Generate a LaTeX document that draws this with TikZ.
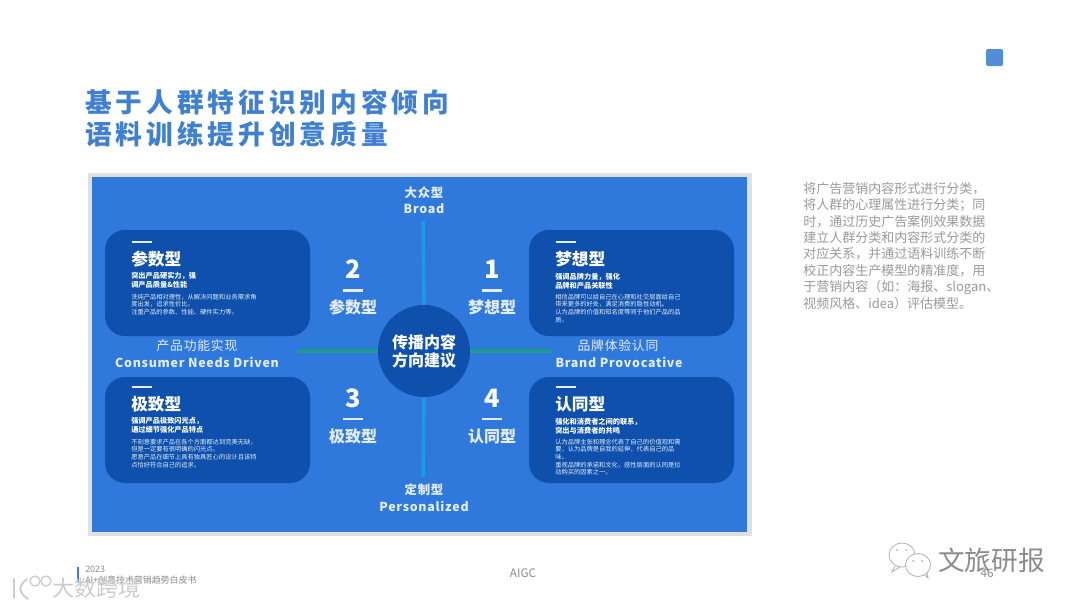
\documentclass[tikz,border=0pt]{standalone}
\usepackage{fontspec}
\setmainfont{Noto Sans CJK SC}
\newfontfamily\spaced[LetterSpace=6]{Noto Sans CJK SC}
\newfontfamily\wide[LetterSpace=15]{Noto Sans CJK SC}
\definecolor{panel}{HTML}{2F78DC}
\definecolor{card}{HTML}{0E50AC}
\definecolor{titleblue}{HTML}{3F80D2}
\definecolor{softwhite}{HTML}{E4EDFB}
\definecolor{vaxis}{HTML}{1A9BE6}
\definecolor{haxis}{HTML}{1F9C90}
\definecolor{graytext}{HTML}{9A9A9A}
\definecolor{footgray}{HTML}{8A8A8A}
\tikzset{
  x=0.75pt,y=-0.75pt,
  cardbox/.style={fill=card,draw=none,rounded corners=15pt},
  dashbar/.style={draw=softwhite,line width=1.6pt},
  cardtitle/.style={anchor=west,inner sep=0pt,text=white,font=\fontsize{12.5}{14}\selectfont\bfseries},
  cardsub/.style={anchor=north west,inner sep=0pt,align=left,text=white,font=\fontsize{5.4}{6.8}\selectfont\bfseries},
  cardbody/.style={anchor=north west,inner sep=0pt,align=left,text=softwhite,font=\fontsize{4.7}{5.75}\selectfont},
  numlabel/.style={inner sep=0pt,text=white,font=\fontsize{19}{20}\selectfont\bfseries},
  typelabel/.style={inner sep=0pt,text=softwhite,font=\fontsize{12}{14}\selectfont\bfseries},
  axislabel/.style={inner sep=0pt,text=softwhite,font=\spaced\fontsize{9.3}{11}\selectfont\bfseries},
  axislabelm/.style={inner sep=0pt,text=softwhite,font=\spaced\fontsize{9.6}{11}\selectfont},
  footer/.style={inner sep=0pt,text=footgray,font=\fontsize{6.7}{7}\selectfont},
  footerbig/.style={inner sep=0pt,text=footgray,font=\fontsize{8.8}{10}\selectfont},
}
\begin{document}
\begin{tikzpicture}
\useasboundingbox (0,0) rectangle (1080,608);
\fill[white] (0,0) rectangle (1080,608);
% corner square
\fill[fill=titleblue!90!white,rounded corners=1.5pt] (986,49) rectangle (1003,66);
% title
\node[anchor=west,inner sep=0pt,text=titleblue,font=\wide\fontsize{20}{24}\selectfont\bfseries] (t1) at (85,102) {基于人群特征识别内容倾向};
\node[anchor=west,inner sep=0pt,text=titleblue,font=\wide\fontsize{20}{24}\selectfont\bfseries] (t2) at (85,134) {语料训练提升创意质量};
% panel with soft edge
\fill[black!12] (88,173) rectangle (752,536);
\fill[panel] (92,177) rectangle (747,532);
% cards
\fill[cardbox] (105,230) rectangle (310,336);
\fill[cardbox] (529,230) rectangle (734,336);
\fill[cardbox] (105,377) rectangle (310,483);
\fill[cardbox] (529,377) rectangle (734,483);
% axes
\coordinate (vtop) at (423,221);
\coordinate (vbot) at (423,477);
\coordinate (hleft) at (297,351);
\coordinate (hright) at (552,351);
\node[circle,fill=card,minimum size=69pt,inner sep=0pt] (hub) at (424,351) {};
\draw[vaxis,line width=2.6pt] (vtop) -- (hub.north);
\draw[vaxis,line width=2.6pt] (hub.south) -- (vbot);
\draw[haxis,line width=2.6pt] (hleft) -- (hub.west);
\draw[haxis,line width=2.6pt] (hub.east) -- (hright);
\node[inner sep=0pt,align=center,text=white,font=\fontsize{12}{13.6}\selectfont\bfseries] (hubtext) at (424,351) {传播内容\\方向建议};
% axis labels
\node[axislabel] (a1) at (424,193) {大众型};
\node[axislabel] (a2) at (424,209) {Broad};
\node[axislabel] (a3) at (424,490) {定制型};
\node[axislabel] (a4) at (424,506) {Personalized};
\node[axislabelm] (a5) at (197,346) {产品功能实现};
\node[axislabel] (a6) at (197,362) {Consumer Needs Driven};
\node[axislabelm] (a7) at (618,346) {品牌体验认同};
\node[axislabel] (a8) at (619,362) {Brand Provocative};
% quadrant numbers
\node[numlabel] (n2) at (353,269) {2};
\node[numlabel] (n1) at (492,269) {1};
\node[numlabel] (n3) at (353,398) {3};
\node[numlabel] (n4) at (492,398) {4};
\draw[dashbar] (343,290.5) -- (363,290.5);
\draw[dashbar] (482,290.5) -- (502,290.5);
\draw[dashbar] (343,419) -- (363,419);
\draw[dashbar] (482,419) -- (502,419);
\node[typelabel] (l2) at (353,307) {参数型};
\node[typelabel] (l1) at (492,307) {梦想型};
\node[typelabel] (l3) at (353,436) {极致型};
\node[typelabel] (l4) at (492,436) {认同型};
% card 参数型
\draw[dashbar] (131.5,242) -- (152,242);
\node[cardtitle] (c2t) at (131,259) {参数型};
\node[cardsub] (c2s) at (131,272) {突出产品硬实力，强\\调产品质量\&性能};
\node[cardbody] (c2b) at (131,293.5) {洗纯产品相对理性，从解决问题和业务需求角\\度出发，追求性价比。\\注重产品的参数、性能、硬件实力等。};
% card 梦想型
\draw[dashbar] (555.5,242) -- (576,242);
\node[cardtitle] (c1t) at (555,259) {梦想型};
\node[cardsub] (c1s) at (555,273) {强调品牌力量，强化\\品牌和产品关联性};
\node[cardbody] (c1b) at (555,293.5) {相信品牌可以给自己在心理和社交层面给自己\\带来更多的好处，满足消费的隐性动机。\\认为品牌的价值和知名度等同于他们产品的品\\质。};
% card 极致型
\draw[dashbar] (131.5,387) -- (152,387);
\node[cardtitle] (c3t) at (131,404) {极致型};
\node[cardsub] (c3s) at (131,417) {强调产品极致闪光点，\\通过细节强化产品特点};
\node[cardbody] (c3b) at (131,438.5) {不刻意要求产品在各个方面都达到完美无缺，\\但是一定要有很明确的闪光点。\\愿意产品在细节上具有独具匠心的设计且该特\\点恰好符合自己的追求。};
% card 认同型
\draw[dashbar] (555.5,387) -- (576,387);
\node[cardtitle] (c4t) at (555,404) {认同型};
\node[cardsub] (c4s) at (555,418) {强化和消费者之间的联系，\\突出与消费者的共鸣};
\node[cardbody] (c4b) at (555,438.5) {认为品牌主张和理念代表了自己的价值观和需\\要，认为品牌是自我的延伸，代表自己的品\\味。\\重视品牌的承诺和文化，感性层面的认同是拉\\动购买的因素之一。};
% side text
\node[anchor=north west,inner sep=0pt,align=left,text=graytext,font=\fontsize{9.75}{12.3}\selectfont] (side) at (803,182) {将广告营销内容形式进行分类，\\将人群的心理属性进行分类；同\\时，通过历史广告案例效果数据\\建立人群分类和内容形式分类的\\对应关系，并通过语料训练不断\\校正内容生产模型的精准度，用\\于营销内容（如：海报、slogan、\\视频风格、idea）评估模型。};
% footer
\draw[titleblue,line width=1.5pt] (77.5,567) -- (77.5,583);
\node[footer,anchor=west] (f1) at (85,569) {2023};
\node[footer,anchor=west] (f2) at (85,580) {AI+创意技术营销趋势白皮书};
\node[footerbig] (f3) at (523,573) {AIGC};
\node[footerbig] (f4) at (987,573) {46};
% watermark left
\draw[black!20,line width=1.4pt,line cap=round] (14,579) -- (14,598);
\draw[black!20,line width=1.4pt,line cap=round] (27,579) .. controls (18,586) and (18,592) .. (28,599);
\draw[black!20,line width=1pt] (35,581) circle (5);
\draw[black!20,line width=1pt] (46,581) circle (5);
\node[inner sep=0pt,anchor=west,text=black!20,font=\fontsize{16.5}{18}\selectfont] (wm1) at (52,588) {大数跨境};
% watermark right
\draw[black!30,line width=.6pt,fill=white] (902,555) ellipse (13 and 12);
\draw[black!30,line width=.6pt] (895,566) -- (892,572) -- (900,567);
\draw[black!30,line width=.6pt,fill=white] (918,565) ellipse (12.5 and 11.5);
\draw[black!30,line width=.6pt] (925,575) -- (928,578) -- (927,573);
\fill[black!30] (897,550) circle (1) (906,550) circle (1) (913,561) circle (1) (922,561) circle (1);
\node[inner sep=0pt,anchor=west,text=black!45,font=\fontsize{20}{22}\selectfont] (wm2) at (938,560) {文旅研报};
\end{tikzpicture}
\end{document}
